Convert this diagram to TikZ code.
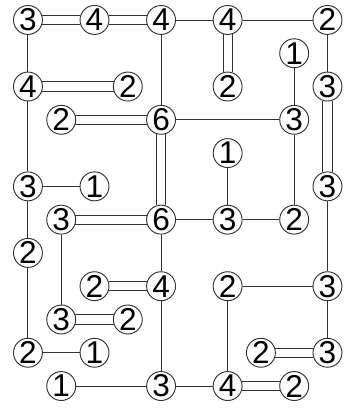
\documentclass[tikz,border=0pt]{standalone}
\usepackage{fontspec}
\setmainfont{Liberation Sans}
\usepackage{tikz}
\definecolor{hashline}{RGB}{50,50,50}

\tikzset{
  isl/.style={circle, draw=hashline, line width=0.8pt, fill=white,
              minimum size=0.87cm, inner sep=0pt,
              font=\fontsize{27}{27}\selectfont},
  bridge/.style={draw=hashline, line width=0.8pt}
}

\begin{document}
\begin{tikzpicture}
  \useasboundingbox (-0.84,0.6) rectangle (9.72,-11.72);
  % islands: row/column/value
  \foreach \r/\c/\v in {0/0/3,0/2/4,0/4/4,0/6/4,0/9/2,
                        1/8/1,
                        2/0/4,2/3/2,2/6/2,2/9/3,
                        3/1/2,3/4/6,3/8/3,
                        4/6/1,
                        5/0/3,5/2/1,5/9/3,
                        6/1/3,6/4/6,6/6/3,6/8/2,
                        7/0/2,
                        8/2/2,8/4/4,8/6/2,8/9/3,
                        9/1/3,9/3/2,
                        10/0/2,10/2/1,10/7/2,10/9/3,
                        11/1/1,11/4/3,11/6/4,11/8/2} {
    \node[isl] (n\r-\c) at (\c,-\r) {\v};
  }
  % single bridges
  \foreach \a/\b in {0-4/0-6,0-6/0-9,0-0/2-0,0-4/3-4,0-9/2-9,1-8/3-8,
                     2-0/5-0,3-4/3-8,3-8/6-8,4-6/6-6,5-0/5-2,5-0/7-0,
                     7-0/10-0,5-9/8-9,6-1/9-1,6-4/6-6,6-6/6-8,6-4/8-4,
                     8-4/11-4,8-6/8-9,8-6/11-6,8-9/10-9,10-0/10-2,
                     11-1/11-4,11-4/11-6} {
    \draw[bridge] (n\a) -- (n\b);
  }
  % double bridges, left to right
  \foreach \a/\b in {0-0/0-2,0-2/0-4,2-0/2-3,3-1/3-4,6-1/6-4,8-2/8-4,
                     9-1/9-3,10-7/10-9,11-6/11-8} {
    \draw[bridge] (n\a.18) -- (n\b.162);
    \draw[bridge] (n\a.-18) -- (n\b.-162);
  }
  % double bridges, top to bottom
  \foreach \a/\b in {0-6/2-6,2-9/5-9,3-4/6-4} {
    \draw[bridge] (n\a.-72) -- (n\b.72);
    \draw[bridge] (n\a.-108) -- (n\b.108);
  }
\end{tikzpicture}
\end{document}
